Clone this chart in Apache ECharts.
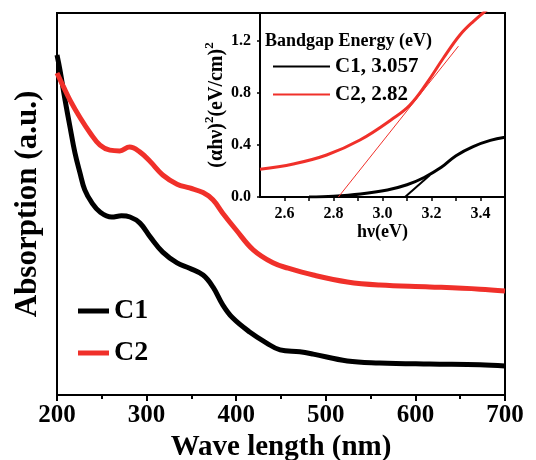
<!DOCTYPE html>
<html><head><meta charset="utf-8">
<script src="https://cdn.jsdelivr.net/npm/echarts@6/dist/echarts.min.js"></script>
<style>html,body{margin:0;padding:0;background:#fff}#c{width:536px;height:460px}</style>
</head><body><div id="c"></div>
<script>
// Main absorption spectra (a.u.)
const c1Wave = [200,203.3,209,214.5,220,225.7,231,239,248,261,272,281.5,292.6,304,318,334,348,363,374,385,396,415,434,449,471,486,524,560,616,672,700];
const c1Abs  = [0.890,0.851,0.772,0.702,0.634,0.581,0.537,0.503,0.479,0.466,0.469,0.466,0.450,0.414,0.374,0.346,0.332,0.314,0.283,0.236,0.202,0.165,0.136,0.118,0.113,0.107,0.089,0.084,0.081,0.079,0.076];
const c2Wave = [200,207,214.5,226,237,248,259,270,281,292,304,318,334,348,363,374,385,400,419,441,458,486,524,560,616,672,700];
const c2Abs  = [0.843,0.808,0.772,0.725,0.686,0.654,0.641,0.639,0.649,0.637,0.611,0.576,0.552,0.542,0.530,0.511,0.476,0.432,0.380,0.346,0.332,0.314,0.296,0.288,0.283,0.277,0.272];
const waveTicks = [200,300,400,500,600,700];

// Inset Tauc plot
const c1Ev   = [2.70,2.80,2.91,3.02,3.10,3.17,3.24,3.30,3.37,3.44,3.50];
const c1Tauc = [0.0,0.006,0.023,0.054,0.094,0.150,0.228,0.318,0.388,0.435,0.460];
const c2Ev   = [2.50,2.636,2.772,2.908,3.044,3.112,3.18,3.248,3.316,3.37,3.44];
const c2Tauc = [0.213,0.254,0.323,0.438,0.605,0.708,0.874,1.067,1.246,1.349,1.46];
const c1FitEv = [3.092,3.194]; const c1Fit = [0,0.169];
const c2FitEv = [2.82,3.31];   const c2Fit = [0,1.16];
const evTicks = [2.6,2.8,3.0,3.2,3.4];
const tauTicks = [0.0,0.4,0.8,1.2];

const names = {c1:'C1', c2:'C2', c1b:'C1, 3.057', c2b:'C2, 2.82'};
const FONT = "'Liberation Serif','Times New Roman',serif";
const pair = (xs, ys) => xs.map((x,i)=>[x, ys[i]]);
const near = (v, arr) => arr.some(t => Math.abs(t - v) < 1e-6);

const chart = echarts.init(document.getElementById('c'), null, {renderer:'canvas'});
chart.setOption({
  animation:false,
  backgroundColor:'#fff',
  title:{text:'Bandgap Energy (eV)', left:265, top:32, padding:0,
    textStyle:{fontFamily:FONT, fontWeight:'bold', fontSize:18, color:'#000'}},
  grid:[
    {left:57, top:13, width:448, height:382, outerBoundsMode:'none', containLabel:false,
     show:true, borderColor:'#000', borderWidth:2, backgroundColor:'transparent'},
    {left:260, top:13, width:245, height:184, outerBoundsMode:'none', containLabel:false,
     show:true, borderColor:'#000', borderWidth:2, backgroundColor:'#fff', z:3}
  ],
  legend:[
    {data:[names.c1, names.c2], orient:'vertical', left:78, top:297, padding:0, itemWidth:31, itemHeight:5, itemGap:14,
     icon:'rect', textStyle:{fontFamily:FONT, fontWeight:'bold', fontSize:28, color:'#000'}},
    {data:[names.c1b, names.c2b], orient:'vertical', left:273, top:56, padding:0, itemWidth:57, itemHeight:2, itemGap:7,
     icon:'rect', textStyle:{fontFamily:FONT, fontWeight:'bold', fontSize:21, color:'#000'}, z:10}
  ],
  xAxis:[
    {gridIndex:0, type:'value', min:200, max:700, interval:100,
     name:'Wave length (nm)', nameLocation:'middle', nameGap:37,
     nameTextStyle:{fontFamily:FONT, fontWeight:'bold', fontSize:29, color:'#000'},
     axisLine:{lineStyle:{color:'#000', width:2}},
     axisTick:{show:true, length:6, inside:false, lineStyle:{width:2}},
     minorTick:{show:true, splitNumber:2, length:4, lineStyle:{color:'#000', width:2}},
     splitLine:{show:false},
     axisLabel:{margin:8, fontFamily:FONT, fontWeight:'bold', fontSize:25, color:'#000',
       formatter:v=>near(v, waveTicks)?String(v):''}},
    {gridIndex:1, type:'value', min:2.5, max:3.5, interval:0.1,
     name:'hν(eV)', nameLocation:'middle', nameGap:24,
     nameTextStyle:{fontFamily:FONT, fontWeight:'bold', fontSize:18, color:'#000'},
     axisLine:{onZero:false, lineStyle:{color:'#000', width:2}},
     axisTick:{show:true, length:4, lineStyle:{width:1.5}},
     splitLine:{show:false},
     axisLabel:{margin:9, fontFamily:FONT, fontWeight:'bold', fontSize:16, color:'#000', showMinLabel:false, showMaxLabel:false,
       formatter:v=>near(v, evTicks)?v.toFixed(1):''}}
  ],
  yAxis:[
    {gridIndex:0, type:'value', min:0, max:1,
     name:'Absorption (a.u.)', nameLocation:'middle', nameGap:14,
     nameTextStyle:{fontFamily:FONT, fontWeight:'bold', fontSize:31, color:'#000'},
     axisLine:{show:true, lineStyle:{color:'#000', width:2}},
     axisTick:{show:false}, axisLabel:{show:false}, splitLine:{show:false}},
    {gridIndex:1, type:'value', min:0, max:1.415, interval:0.4,
     name:'{b|(αhν)}{s|2}{b|(eV/cm)}{s|2}', nameLocation:'middle', nameGap:32,
     nameTextStyle:{color:'#000', rich:{
       b:{fontFamily:FONT, fontWeight:'bold', fontSize:20, lineHeight:24, verticalAlign:'bottom', color:'#000'},
       s:{fontFamily:FONT, fontWeight:'bold', fontSize:13, lineHeight:24, verticalAlign:'top', color:'#000'}}},
     axisLine:{show:true, lineStyle:{color:'#000', width:2}},
     axisTick:{show:true, length:3, lineStyle:{width:1.5}},
     splitLine:{show:false},
     axisLabel:{margin:9, fontFamily:FONT, fontWeight:'bold', fontSize:16, color:'#000',
       formatter:v=>near(v, tauTicks)?v.toFixed(1):''}}
  ],
  series:[
    {name:names.c1, type:'line', xAxisIndex:0, yAxisIndex:0, data:pair(c1Wave,c1Abs), smooth:0.4,
     showSymbol:false, lineStyle:{color:'#000', width:5}, itemStyle:{color:'#000'}},
    {name:names.c2, type:'line', xAxisIndex:0, yAxisIndex:0, data:pair(c2Wave,c2Abs), smooth:0.4,
     showSymbol:false, lineStyle:{color:'#f0302a', width:5}, itemStyle:{color:'#f0302a'}},
    {name:names.c1b, type:'line', xAxisIndex:1, yAxisIndex:1, data:pair(c1Ev,c1Tauc), smooth:0.4, z:5,
     showSymbol:false, lineStyle:{color:'#000', width:3}, itemStyle:{color:'#000'}},
    {name:names.c2b, type:'line', xAxisIndex:1, yAxisIndex:1, data:pair(c2Ev,c2Tauc), smooth:0.4, z:5,
     showSymbol:false, lineStyle:{color:'#f0302a', width:3}, itemStyle:{color:'#f0302a'}},
    {name:'fit1', type:'line', xAxisIndex:1, yAxisIndex:1, data:pair(c1FitEv,c1Fit), z:5,
     showSymbol:false, lineStyle:{color:'#000', width:2}},
    {name:'fit2', type:'line', xAxisIndex:1, yAxisIndex:1, data:pair(c2FitEv,c2Fit), z:5,
     showSymbol:false, lineStyle:{color:'#f0302a', width:1}}
  ]
});
</script></body></html>
